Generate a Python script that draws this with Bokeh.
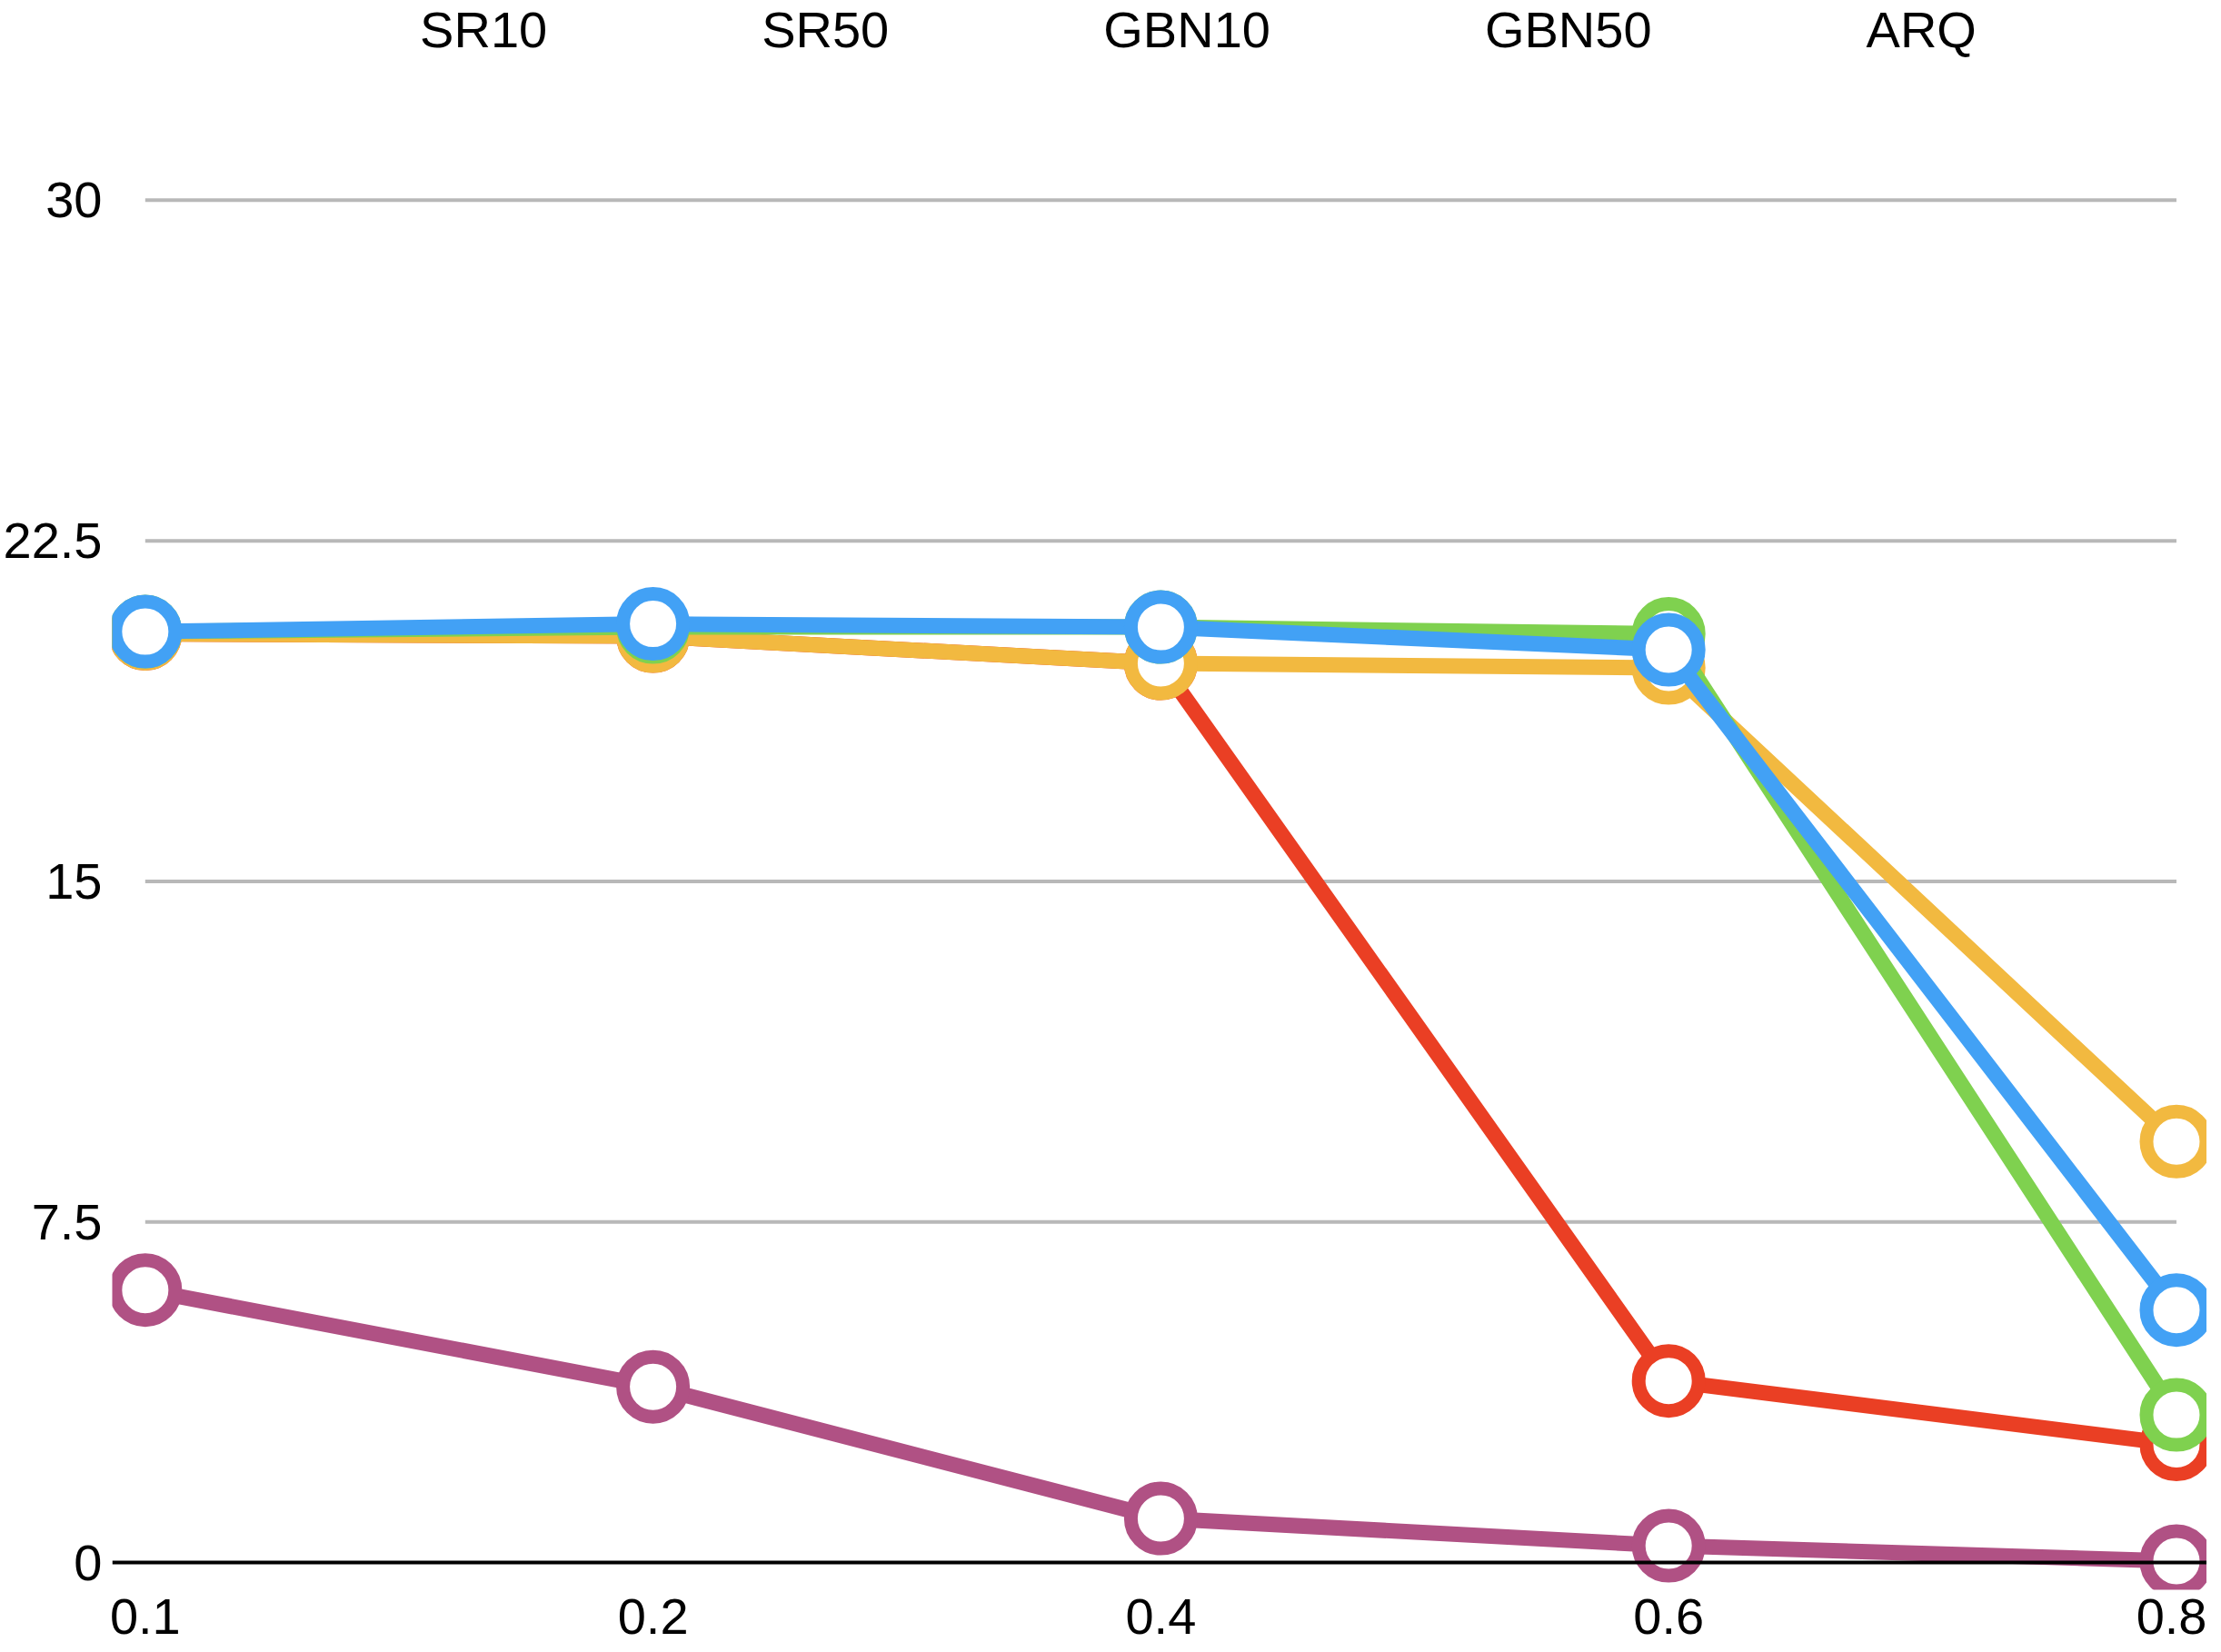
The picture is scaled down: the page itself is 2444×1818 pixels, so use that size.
from bokeh.plotting import figure
from bokeh.models import Legend, LegendItem, FixedTicker, Span
from bokeh.embed import file_html
from bokeh.resources import INLINE

x_labels = ["0.1", "0.2", "0.4", "0.6", "0.8"]
y_ticks = [0, 7.5, 15, 22.5, 30]
series = {
    "SR10": [20.5, 20.67, 20.6, 20.1, 5.56],
    "SR50": [20.5, 20.6, 20.6, 20.45, 3.25],
    "GBN10": [20.45, 20.4, 19.8, 19.7, 9.27],
    "GBN50": [20.45, 20.4, 19.8, 4.0, 2.6],
    "ARQ": [6.0, 3.87, 0.97, 0.37, 0.03],
}
colors = {"SR10": "#42a1f5", "SR50": "#7fd14f", "GBN10": "#f2b940",
          "GBN50": "#ea3f24", "ARQ": "#b05184"}
draw_order = ["GBN50", "GBN10", "SR50", "SR10", "ARQ"]
legend_order = ["SR10", "SR50", "GBN10", "GBN50", "ARQ"]

xs = list(range(len(x_labels)))

p = figure(width=2428, height=1800, output_backend="svg", toolbar_location=None,
           x_range=(-0.065, 4.06), y_range=(-0.6, 34.4), min_border_left=30,
           min_border_right=0, min_border_top=0, min_border_bottom=40)
p.outline_line_color = None
p.xgrid.visible = False
p.ygrid.visible = False

# gridlines spanning only the category extent
gl = [t for t in y_ticks if t > 0]
p.segment(x0=[xs[0]] * len(gl), x1=[xs[-1]] * len(gl), y0=gl, y1=gl,
          line_color="#b8b8b8", line_width=4)
p.add_layout(Span(location=0, dimension="width", line_color="black", line_width=4))

for name in draw_order:
    c = colors[name]
    p.line(xs, series[name], line_color=c, line_width=17)
    p.scatter(xs, series[name], size=66, fill_color="white", line_color=c, line_width=15)

# small stand-in glyphs for the legend
items = []
for name in legend_order:
    c = colors[name]
    l = p.line([], [], line_color=c, line_width=10)
    s = p.scatter([], [], size=26, fill_color="white", line_color=c, line_width=8)
    items.append(LegendItem(label=name, renderers=[l, s]))

legend = Legend(items=items, orientation="horizontal", location="top_center",
                label_text_font="Helvetica", label_text_font_size="56px",
                label_text_color="black", border_line_color=None,
                background_fill_alpha=0, glyph_width=56, glyph_height=40,
                spacing=150, label_standoff=30, margin=0, padding=0)
p.add_layout(legend)

for ax in (p.xaxis, p.yaxis):
    ax.axis_line_color = None
    ax.major_tick_line_color = None
    ax.minor_tick_line_color = None
    ax.major_label_text_font = "Helvetica"
    ax.major_label_text_font_size = "56px"
    ax.major_label_text_color = "black"
p.xaxis.major_label_standoff = 4
p.xaxis.ticker = FixedTicker(ticks=xs)
p.xaxis.major_label_overrides = {i: lab for i, lab in enumerate(x_labels)}
p.yaxis.ticker = FixedTicker(ticks=y_ticks)
p.yaxis.major_label_overrides = {0: "0", 7.5: "7.5", 15: "15", 22.5: "22.5", 30: "30"}

open("out.html", "w").write(file_html(p, INLINE))
